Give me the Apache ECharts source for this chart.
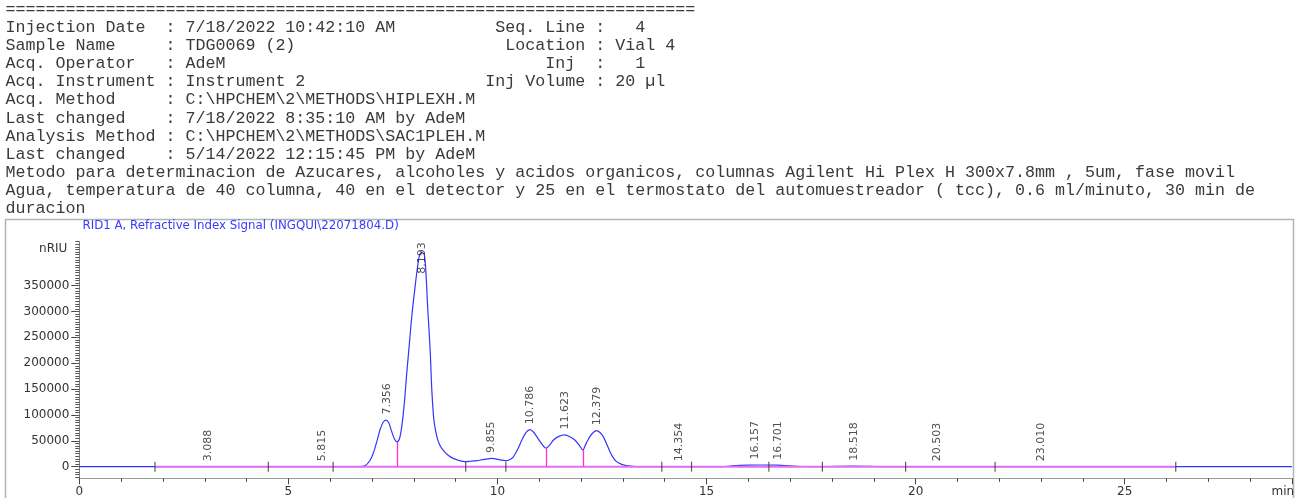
<!DOCTYPE html>
<html>
<head>
<meta charset="utf-8">
<script src="https://cdn.jsdelivr.net/npm/echarts@6/dist/echarts.min.js"></script>
<style>
html,body{margin:0;padding:0;background:#fff;}
#c{width:1298px;height:498px;}
</style>
</head>
<body>
<div id="c"></div>
<script>
// ---- data ----
const signalTime = [0, 6.70, 6.83, 6.95, 7.03, 7.12, 7.19, 7.26, 7.33, 7.40, 7.47, 7.54, 7.60, 7.66, 7.71, 7.77, 7.83, 7.89, 7.95, 8.03, 8.09, 8.14, 8.19, 8.25, 8.29, 8.33, 8.39, 8.43, 8.48, 8.55, 8.62, 8.70, 8.82, 8.94, 9.08, 9.22, 9.36, 9.50, 9.68, 9.86, 9.96, 10.06, 10.20, 10.30, 10.38, 10.48, 10.58, 10.68, 10.78, 10.86, 10.94, 11.05, 11.16, 11.25, 11.34, 11.47, 11.61, 11.73, 11.85, 11.95, 12.04, 12.12, 12.21, 12.29, 12.37, 12.45, 12.53, 12.61, 12.69, 12.77, 12.85, 12.97, 13.09, 13.30, 13.60, 15.40, 15.60, 16.00, 16.30, 16.70, 17.00, 17.30, 17.60, 18.10, 18.50, 18.90, 19.30, 29];
const signalValue = [0, 0, 1500, 12000, 26000, 50000, 71000, 85000, 90000, 85000, 68000, 53000, 48000, 55000, 77000, 120000, 180000, 235000, 290000, 348000, 387000, 410000, 414000, 410000, 374000, 309000, 226000, 148000, 90000, 58000, 42000, 32000, 22000, 16000, 12000, 9700, 10500, 11600, 14000, 16000, 15000, 13000, 11600, 14000, 19000, 33000, 51000, 66000, 71500, 67000, 58000, 45000, 35600, 42000, 51600, 58500, 61300, 58000, 51600, 42000, 32300, 45000, 58000, 66000, 69600, 66000, 58000, 44000, 29000, 17000, 9700, 4500, 1900, 300, 0, 0, 1500, 3000, 3200, 2800, 1500, 300, 0, 500, 900, 500, 0, 0];

const peakLabels = ['3.088', '5.815', '7.356', '8.193', '9.855', '10.786', '11.623', '12.379', '14.354', '16.157', '16.701', '18.518', '20.503', '23.010'];
const peakHeights = [0, 0, 90000, 414000, 16000, 71500, 61300, 69600, 0, 3000, 2800, 900, 0, 0];

const markerTimes = [1.81, 4.52, 6.07, 9.24, 10.20, 13.93, 14.64, 16.49, 17.77, 19.76, 21.90, 26.22];
const dropTimes = [7.60, 11.16, 12.04];
const dropHeights = [48000, 35600, 32300];
const baselineRange = [1.81, 26.22];

const xTicks = [0, 5, 10, 15, 20, 25];
const yTicks = [0, 50000, 100000, 150000, 200000, 250000, 300000, 350000];

const chartTitle = 'RID1 A, Refractive Index Signal (INGQUI\\22071804.D)';
const headerLines = [
  '='.repeat(69),
  'Injection Date  : 7/18/2022 10:42:10 AM'.padEnd(49) + 'Seq. Line :   4',
  'Sample Name     : TDG0069 (2)'.padEnd(50) + 'Location : Vial 4',
  'Acq. Operator   : AdeM'.padEnd(54) + 'Inj  :   1',
  'Acq. Instrument : Instrument 2'.padEnd(48) + 'Inj Volume : 20 \u00b5l',
  'Acq. Method     : C:\\HPCHEM\\2\\METHODS\\HIPLEXH.M',
  'Last changed    : 7/18/2022 8:35:10 AM by AdeM',
  'Analysis Method : C:\\HPCHEM\\2\\METHODS\\SAC1PLEH.M',
  'Last changed    : 5/14/2022 12:15:45 PM by AdeM',
  'Metodo para determinacion de Azucares, alcoholes y acidos organicos, columnas Agilent Hi Plex H 300x7.8mm , 5um, fase movil',
  'Agua, temperatura de 40 columna, 40 en el detector y 25 en el termostato del automuestreador ( tcc), 0.6 ml/minuto, 30 min de',
  'duracion'
];

// ---- layout ----
const X_MIN = 0, X_MAX = 29;
const Y_MIN = -22500, Y_MAX = 435000;
const G_LEFT = 79.3, G_RIGHT = 6, G_TOP = 241.7, G_BOTTOM = 19.7;
const gridH = 498 - G_TOP - G_BOTTOM;
const unitsPerPx = (Y_MAX - Y_MIN) / gridH;

const LABEL_FONT = '11px "DejaVu Sans"';
const mctx = document.createElement('canvas').getContext('2d');
mctx.font = LABEL_FONT;
function labelY(txt, h) {
  const len = mctx.measureText(txt).width;
  const cap = Y_MAX - (len + 6) * unitsPerPx;
  return Math.min(h, cap);
}

const minorY = [];
for (let v = -20000; v <= Y_MAX; v += 5000) minorY.push(v);

const graphics = headerLines.map((t, i) => ({
  type: 'text', x: 5.5, y: 9.2 + 18.17 * i, silent: true,
  style: { text: t, font: '16.667px "Liberation Mono"', fill: '#3a3a3a', align: 'left', verticalAlign: 'middle' }
}));
graphics.push({
  type: 'rect', silent: true, z: -1,
  shape: { x: 5.5, y: 219.5, width: 1288, height: 290 },
  style: { fill: 'none', stroke: '#b4b4b4', lineWidth: 1.5 }
});
graphics.push({
  type: 'text', x: 82.5, y: 226, silent: true,
  style: { text: chartTitle, font: '11.8px "DejaVu Sans"', fill: '#3a3aff', align: 'left', verticalAlign: 'middle' }
});

const chart = echarts.init(document.getElementById('c'), null, { renderer: 'canvas' });
chart.setOption({
  animation: false,
  backgroundColor: '#fff',
  graphic: graphics,
  grid: { left: G_LEFT, right: G_RIGHT, top: G_TOP, bottom: G_BOTTOM, containLabel: false, outerBoundsMode: 'none' },
  xAxis: {
    type: 'value', min: X_MIN, max: X_MAX, interval: 5,
    name: 'min', nameLocation: 'end', nameGap: -20.5,
    nameTextStyle: { fontFamily: 'DejaVu Sans', fontSize: 12, color: '#333', align: 'left', verticalAlign: 'top', padding: [8, 0, 0, 0] },
    axisLine: { onZero: false, lineStyle: { color: '#9a9a9a', width: 1 } },
    axisTick: { length: 6, lineStyle: { color: '#444', width: 1 } },
    minorTick: { show: true, splitNumber: 5, length: 3.5, lineStyle: { color: '#444', width: 1 } },
    axisLabel: { customValues: xTicks, margin: 8, fontFamily: 'DejaVu Sans', fontSize: 12, color: '#333', formatter: v => String(v) },
    splitLine: { show: false }
  },
  yAxis: [
    {
      type: 'value', min: Y_MIN, max: Y_MAX, position: 'left',
      name: 'nRIU', nameLocation: 'end', nameGap: -7.5,
      nameTextStyle: { fontFamily: 'DejaVu Sans', fontSize: 12, color: '#333', align: 'right', verticalAlign: 'middle', padding: [0, 12, 0, 0] },
      axisLine: { show: true, onZero: false, lineStyle: { color: '#808080', width: 1 } },
      axisTick: { show: true, customValues: yTicks, length: 8, lineStyle: { color: '#444', width: 1 } },
      axisLabel: { customValues: yTicks, margin: 10, fontFamily: 'DejaVu Sans', fontSize: 12, color: '#333', formatter: v => String(v) },
      splitLine: { show: false }
    },
    {
      type: 'value', min: Y_MIN, max: Y_MAX, position: 'left', offset: 0,
      axisLine: { show: false },
      axisTick: { show: true, customValues: minorY, length: 4, lineStyle: { color: '#555', width: 1 } },
      axisLabel: { show: false },
      splitLine: { show: false }
    }
  ],
  series: [
    {
      type: 'line', name: 'signal', yAxisIndex: 0, z: 2,
      data: signalTime.map((t, i) => [t, signalValue[i]]),
      showSymbol: false, symbol: 'none', smooth: 0.3,
      lineStyle: { color: '#3535ff', width: 1.2 }, silent: true
    },
    {
      type: 'line', name: 'baseline', yAxisIndex: 0, z: 3,
      data: [[baselineRange[0], 0], [baselineRange[1], 0]],
      showSymbol: false, symbol: 'none',
      lineStyle: { color: '#e070f0', width: 2 }, silent: true,
      markLine: {
        silent: true, symbol: ['none', 'none'], animation: false,
        label: { show: false },
        lineStyle: { color: '#ff30d0', width: 1.3, type: 'solid' },
        data: dropTimes.map((t, i) => [{ coord: [t, 0] }, { coord: [t, dropHeights[i]] }])
      }
    },
    {
      type: 'scatter', name: 'markers', yAxisIndex: 0, z: 4, silent: true,
      symbol: 'rect', symbolSize: [1.2, 10],
      itemStyle: { color: '#333' },
      data: markerTimes.map(t => [t, 0])
    },
    {
      type: 'scatter', name: 'peaks', yAxisIndex: 0, z: 5, silent: true,
      symbolSize: 1, itemStyle: { color: 'rgba(0,0,0,0)' },
      data: peakLabels.map((l, i) => ({ name: l, value: [parseFloat(l), labelY(l, peakHeights[i])] })),
      label: {
        show: true, formatter: p => p.name, rotate: 90, position: 'top', distance: 5,
        align: 'left', verticalAlign: 'middle',
        fontFamily: 'DejaVu Sans', fontSize: 11, color: '#222'
      }
    }
  ]
});
</script>
</body>
</html>
